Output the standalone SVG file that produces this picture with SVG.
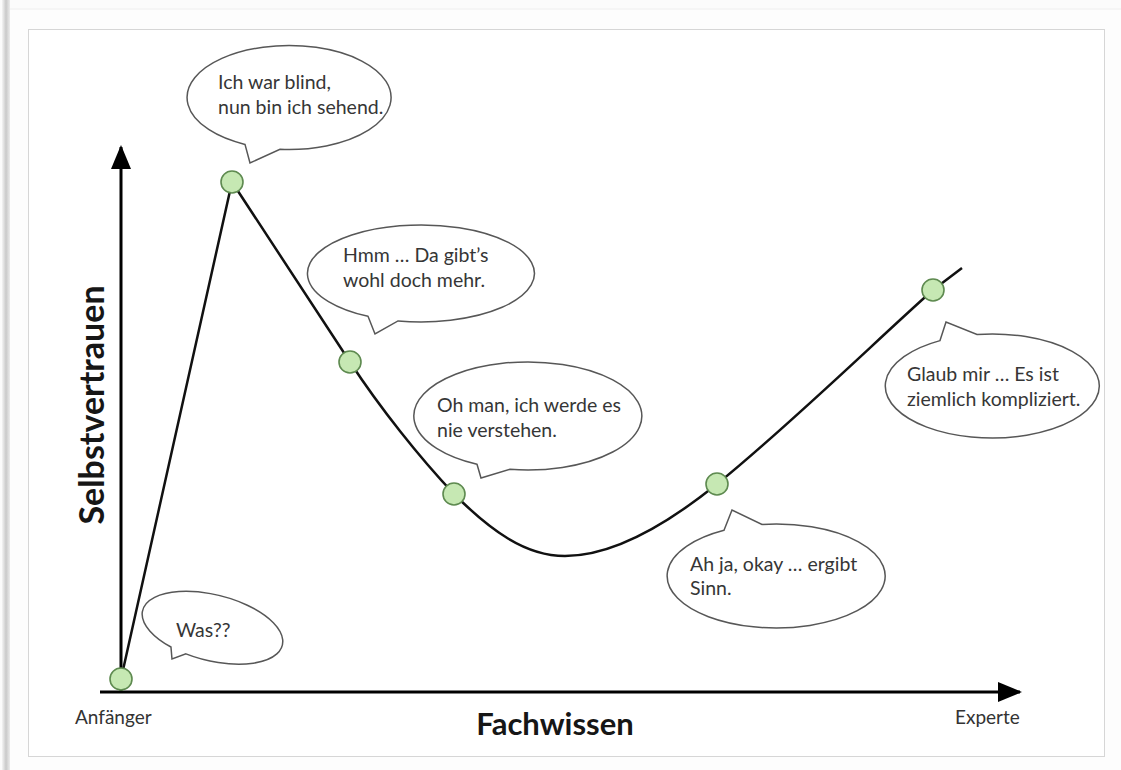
<svg xmlns="http://www.w3.org/2000/svg" width="1121" height="770" viewBox="0 0 1121 770">
  <defs>
    <linearGradient id="shadow" x1="0" y1="0" x2="1" y2="0">
      <stop offset="0" stop-color="#f4f4f4"/>
      <stop offset="0.5" stop-color="#c9c9c9"/>
      <stop offset="1" stop-color="#ececec"/>
    </linearGradient>
    <marker id="arrow" viewBox="0 0 24 20" refX="22" refY="10" markerWidth="24" markerHeight="20" markerUnits="userSpaceOnUse" orient="auto">
      <path d="M0,0 L24,10 L0,20 Z" fill="#000"/>
    </marker>
  </defs>
  <style>
    .bubble { fill: #ffffff; stroke: #575757; stroke-width: 1.5; }
    .btext { font-family: Lato, "Liberation Sans", sans-serif; font-size: 19.5px; fill: #363636; }
    .axis { stroke: #000; stroke-width: 3; fill: none; }
    .curve { stroke: #111; stroke-width: 2.5; fill: none; }
    .dot { fill: #c6e8b3; stroke: #5e8a50; stroke-width: 1.6; }
    .big { font-family: Lato, "Liberation Sans", sans-serif; font-weight: bold; fill: #161616; }
    .small { font-family: Lato, "Liberation Sans", sans-serif; font-size: 19px; fill: #333; }
  </style>

  <!-- frame -->
  <rect x="0" y="0" width="1121" height="770" fill="#fbfbfb"/>
  <rect x="2" y="0" width="8" height="770" fill="url(#shadow)"/>
  <rect x="10" y="9" width="1111" height="761" fill="#fdfdfd"/>
  <line x1="10" y1="9" x2="1121" y2="9" stroke="#eeeeee" stroke-width="1"/>
  <rect x="28.5" y="29.5" width="1076" height="727" fill="#ffffff" stroke="#d6d6d6" stroke-width="1"/>

  <!-- connectors: axes and curve -->
  <g id="connectors">
    <line class="axis" x1="121" y1="692" x2="121" y2="147" marker-end="url(#arrow)"/>
    <line class="axis" x1="100" y1="692" x2="1020" y2="692" marker-end="url(#arrow)"/>
    <path class="curve" d="M121,679 L232,182 L350,362 C380,408 420,458 454,494 C490,530 525,556 565,556 C610,556 660,530 717,484 C790,425 880,337 933,290 L962,268"/>
  </g>

  <!-- axis labels -->
  <g id="label-y">
    <text class="big" font-size="34" transform="translate(104,405) rotate(-90)" text-anchor="middle">Selbstvertrauen</text>
  </g>
  <g id="label-x">
    <text class="big" font-size="31" x="555" y="735" text-anchor="middle">Fachwissen</text>
  </g>
  <g id="label-start">
    <text class="small" x="75" y="724">Anfänger</text>
  </g>
  <g id="label-end">
    <text class="small" x="955" y="724">Experte</text>
  </g>

  <!-- points -->
  <g id="p1"><circle class="dot" cx="121" cy="679" r="11"/></g>
  <g id="p2"><circle class="dot" cx="232" cy="182" r="11"/></g>
  <g id="p3"><circle class="dot" cx="350" cy="362" r="11"/></g>
  <g id="p4"><circle class="dot" cx="454" cy="494" r="11"/></g>
  <g id="p5"><circle class="dot" cx="717" cy="484" r="11"/></g>
  <g id="p6"><circle class="dot" cx="933" cy="290" r="11"/></g>

  <!-- bubbles -->
  <g id="bubble-was">
    <path class="bubble" transform="rotate(14 213 628)" d="M176.8,656.6 L180.7,668 L193,659.7 A72,33 0 1 0 176.8,656.6 Z"/>
    <text class="btext" x="176" y="637">Was??</text>
  </g>
  <g id="bubble-blind">
    <path class="bubble" d="M245,144.4 L250,163 L280,149.3 A102,52 0 1 0 245,144.4 Z"/>
    <text class="btext" x="218" y="89">Ich war blind,</text>
    <text class="btext" x="218" y="114">nun bin ich sehend.</text>
  </g>
  <g id="bubble-hmm">
    <path class="bubble" d="M368,316.3 L375,334 L398,320.9 A113.5,48.5 0 1 0 368,316.3 Z"/>
    <text class="btext" x="343" y="262">Hmm … Da gibt’s</text>
    <text class="btext" x="343" y="287">wohl doch mehr.</text>
  </g>
  <g id="bubble-ohman">
    <path class="bubble" d="M477,464.3 L481,478 L510,469.3 A114,54 0 1 0 477,464.3 Z"/>
    <text class="btext" x="437" y="412">Oh man, ich werde es</text>
    <text class="btext" x="437" y="437">nie verstehen.</text>
  </g>
  <g id="bubble-ahja">
    <path class="bubble" d="M724,530.3 L732,510 L762,524.4 A109,52 0 1 1 724,530.3 Z"/>
    <text class="btext" x="690" y="571">Ah ja, okay … ergibt</text>
    <text class="btext" x="690" y="595">Sinn.</text>
  </g>
  <g id="bubble-glaub">
    <path class="bubble" d="M940,340.6 L946,322 L977,334.5 A107,52 0 1 1 940,340.6 Z"/>
    <text class="btext" x="907" y="381">Glaub mir … Es ist</text>
    <text class="btext" x="907" y="406">ziemlich kompliziert.</text>
  </g>
</svg>
